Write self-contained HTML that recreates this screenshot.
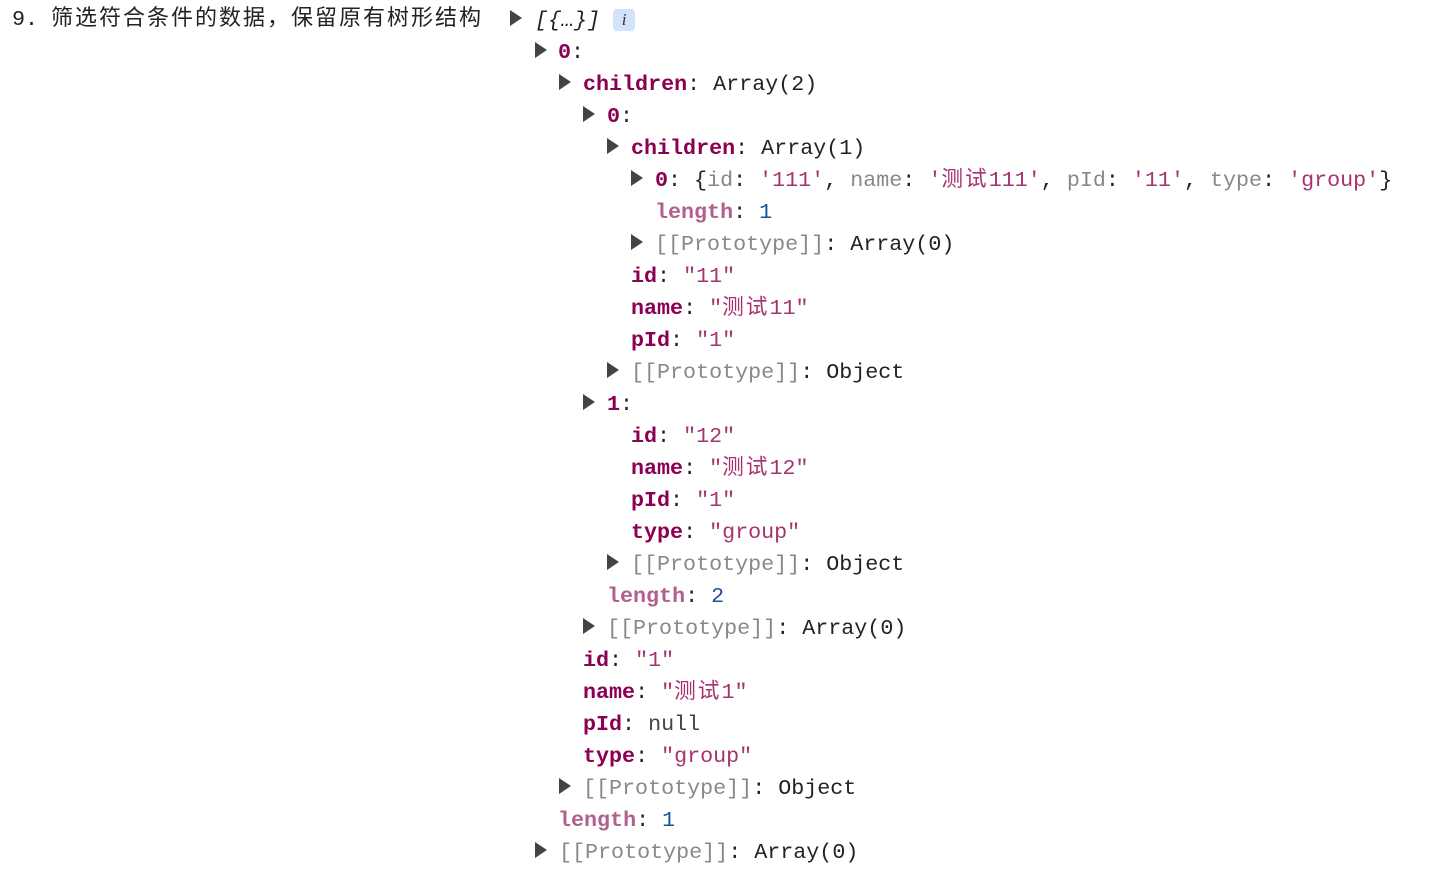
<!DOCTYPE html>
<html><head><meta charset="utf-8"><style>
body{margin:0;width:1454px;height:886px;background:#fff;position:relative;overflow:hidden;font-family:"Liberation Mono","Noto Sans CJK SC",monospace;font-size:21.7px;color:#222;}
.l{position:absolute;height:32px;line-height:32px;white-space:pre;margin-top:2px}
.t{position:absolute;width:0;height:0;border-top:8px solid transparent;border-bottom:8px solid transparent;border-left:12px solid #444;}
.k{color:#8b0052;font-weight:bold}
.lk{color:#b0608f;font-weight:bold}
.s{color:#a83270}
.n{color:#1a4fa0}
.g{color:#888}
.c{letter-spacing:2px}
.b{display:inline-block;width:22px;height:22px;background:#d3e3fd;border-radius:4px;color:#333;font-style:italic;text-align:center;line-height:22px;font-size:17px;font-family:"Liberation Serif",serif;vertical-align:middle;}
</style></head><body>
<div class="l" style="left:12px;top:-2px;font-family:'Liberation Mono','Noto Sans CJK SC',monospace">9. <span style="font-family:'Noto Sans CJK SC',sans-serif;font-size:22px;letter-spacing:2px">筛选符合条件的数据，保留原有树形结构</span></div>

<div class="t" style="left:510px;top:10px"></div><div class="l" style="left:535px;top:3px;font-style:italic">[{…}] <span class="b">i</span></div>
<div class="t" style="left:535px;top:42px"></div><div class="l" style="left:558px;top:35px"><span class="k">0</span>:</div>
<div class="t" style="left:559px;top:74px"></div><div class="l" style="left:583px;top:67px"><span class="k">children</span>: Array(2)</div>
<div class="t" style="left:583px;top:106px"></div><div class="l" style="left:607px;top:99px"><span class="k">0</span>:</div>
<div class="t" style="left:607px;top:138px"></div><div class="l" style="left:631px;top:131px"><span class="k">children</span>: Array(1)</div>
<div class="t" style="left:631px;top:170px"></div><div class="l" style="left:655px;top:163px"><span class="k">0</span>: {<span class="g">id</span>: <span class="s">'111'</span>, <span class="g">name</span>: <span class="s">'<span class="c">测试</span>111'</span>, <span class="g">pId</span>: <span class="s">'11'</span>, <span class="g">type</span>: <span class="s">'group'</span>}</div>
<div class="l" style="left:655px;top:195px"><span class="lk">length</span>: <span class="n">1</span></div>
<div class="t" style="left:631px;top:234px"></div><div class="l" style="left:655px;top:227px"><span class="g">[[Prototype]]</span>: Array(0)</div>
<div class="l" style="left:631px;top:259px"><span class="k">id</span>: <span class="s">"11"</span></div>
<div class="l" style="left:631px;top:291px"><span class="k">name</span>: <span class="s">"<span class="c">测试</span>11"</span></div>
<div class="l" style="left:631px;top:323px"><span class="k">pId</span>: <span class="s">"1"</span></div>
<div class="t" style="left:607px;top:362px"></div><div class="l" style="left:631px;top:355px"><span class="g">[[Prototype]]</span>: Object</div>
<div class="t" style="left:583px;top:394px"></div><div class="l" style="left:607px;top:387px"><span class="k">1</span>:</div>
<div class="l" style="left:631px;top:419px"><span class="k">id</span>: <span class="s">"12"</span></div>
<div class="l" style="left:631px;top:451px"><span class="k">name</span>: <span class="s">"<span class="c">测试</span>12"</span></div>
<div class="l" style="left:631px;top:483px"><span class="k">pId</span>: <span class="s">"1"</span></div>
<div class="l" style="left:631px;top:515px"><span class="k">type</span>: <span class="s">"group"</span></div>
<div class="t" style="left:607px;top:554px"></div><div class="l" style="left:631px;top:547px"><span class="g">[[Prototype]]</span>: Object</div>
<div class="l" style="left:607px;top:579px"><span class="lk">length</span>: <span class="n">2</span></div>
<div class="t" style="left:583px;top:618px"></div><div class="l" style="left:607px;top:611px"><span class="g">[[Prototype]]</span>: Array(0)</div>
<div class="l" style="left:583px;top:643px"><span class="k">id</span>: <span class="s">"1"</span></div>
<div class="l" style="left:583px;top:675px"><span class="k">name</span>: <span class="s">"<span class="c">测试</span>1"</span></div>
<div class="l" style="left:583px;top:707px"><span class="k">pId</span>: <span style="color:#444">null</span></div>
<div class="l" style="left:583px;top:739px"><span class="k">type</span>: <span class="s">"group"</span></div>
<div class="t" style="left:559px;top:778px"></div><div class="l" style="left:583px;top:771px"><span class="g">[[Prototype]]</span>: Object</div>
<div class="l" style="left:558px;top:803px"><span class="lk">length</span>: <span class="n">1</span></div>
<div class="t" style="left:535px;top:842px"></div><div class="l" style="left:559px;top:835px"><span class="g">[[Prototype]]</span>: Array(0)</div>
</body></html>
